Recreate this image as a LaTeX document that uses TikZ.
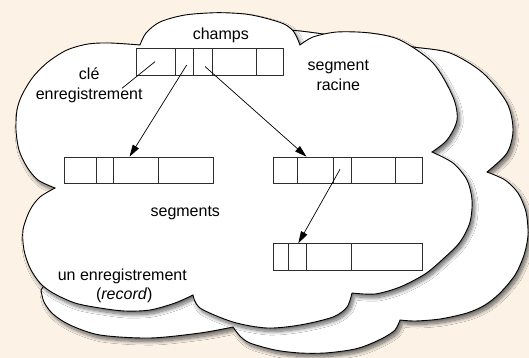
\documentclass[tikz,border=0pt]{standalone}
\usepackage{fontspec}
\setmainfont{Liberation Sans}
\usetikzlibrary{shadows.blur,arrows.meta,calc}
\definecolor{paper}{RGB}{252,242,230}
\definecolor{ink}{RGB}{45,45,45}

\begin{document}
\begin{tikzpicture}[x=1pt,y=-1pt,
  cloud/.style={fill=white, draw=black, line width=0.9pt,
    blur shadow={shadow xshift=2.5pt, shadow yshift=-3.5pt,
      shadow blur radius=3.5pt, shadow blur steps=14, shadow opacity=60}},
  cell/.style={draw=ink, line width=0.9pt, inner sep=0pt,
    minimum height=26.7pt, anchor=north west},
  link/.style={draw=black, line width=0.7pt,
    -{Triangle[length=12pt,width=7pt]}},
  lbl/.style={font=\fontsize{16}{19}\selectfont, inner sep=0pt, anchor=base}]

% background
\fill[paper] (0,0) rectangle (529,358);
\useasboundingbox (0,0) rectangle (529,358);

% rear cloud
\path[cloud]
  plot[smooth] coordinates {(230,45) (255,35) (280,30) (300,31) (330,35) (370,41)
    (413,47) (450,53) (483,73) (507,103) (513,130) (507,153) (487,172)}
  -- plot[smooth] coordinates {(487,172) (505,180) (518,193) (526,212) (528,235)
    (524,255) (515,275) (500,293) (485,305) (467,313) (440,319) (415,321) (400,320)}
  -- plot[smooth] coordinates {(400,320) (395,330) (383,338) (365,346) (350,350)
    (325,353) (300,353) (275,350) (250,343) (240,336) (233,327)}
  -- plot[smooth] coordinates {(233,327) (200,333) (150,338) (100,335) (70,325)
    (53,314) (44,302) (41,290)}
  -- (70,250) -- (90,150) -- (150,70) -- cycle;

% front cloud
\path[cloud]
  plot[smooth] coordinates {(140,45) (146,33) (160,22) (185,15) (217,12.7) (245,14)
    (265,18) (284,24) (294,32) (300,45)}
  -- plot[smooth] coordinates {(300,45) (313,37) (337,32) (370,33) (400,40) (433,63)
    (453,97) (457,120) (447,140) (432,152)}
  -- plot[smooth] coordinates {(432,152) (453,163) (467,180) (472,200) (470,222)
    (460,242) (443,259) (425,274) (400,287) (375,294) (352,293)}
  -- plot[smooth] coordinates {(352,293) (347,307) (333,317) (300,325) (267,328)
    (233,322) (200,308) (193,295)}
  -- plot[smooth] coordinates {(193,295) (175,303) (150,310) (125,311) (100,308)
    (75,303) (53,293) (40,283) (30,268) (24,250) (23,230) (30,210) (40,197) (55,188)}
  -- plot[smooth] coordinates {(55,188) (38,180) (27,167) (19,150) (16,130) (17,110)
    (22,95) (33,77) (48,62) (67,50) (88,44) (110,43) (140,45)}
  -- cycle;

% root segment
\node[cell, minimum width=39pt]   (t1) at (136,48.3) {};
\node[cell, minimum width=18.3pt] (t2) at (175,48.3) {};
\node[cell, minimum width=18.4pt] (t3) at (193.3,48.3) {};
\node[cell, minimum width=44.3pt] (t4) at (211.7,48.3) {};
\node[cell, minimum width=27.3pt] (t5) at (256,48.3) {};

% left child segment
\node[cell, minimum width=32pt]   (l1) at (64,156.7) {};
\node[cell, minimum width=17.3pt] (l2) at (96,156.7) {};
\node[cell, minimum width=44.4pt] (l3) at (113.3,156.7) {};
\node[cell, minimum width=54.9pt] (l4) at (157.7,156.7) {};

% right child segment
\node[cell, minimum width=24.5pt] (r1) at (272.5,156.7) {};
\node[cell, minimum width=36.3pt] (r2) at (297,156.7) {};
\node[cell, minimum width=17.4pt] (r3) at (333.3,156.7) {};
\node[cell, minimum width=44.3pt] (r4) at (350.7,156.7) {};
\node[cell, minimum width=26.5pt] (r5) at (395,156.7) {};

% grandchild segment
\node[cell, minimum width=15.9pt] (b1) at (272.5,243.3) {};
\node[cell, minimum width=17.6pt] (b2) at (288.4,243.3) {};
\node[cell, minimum width=44.7pt] (b3) at (306,243.3) {};
\node[cell, minimum width=70.8pt] (b4) at (350.7,243.3) {};

% labels
\node[lbl] (champs) at (220.8,39.5) {champs};
\node[lbl] (cle) at (89.2,80) {clé};
\node[lbl] (enreg) at (89.2,99.5) {enregistrement};
\node[lbl] (segm) at (338.3,70.7) {segment};
\node[lbl] (racine) at (338.3,90.7) {racine};
\node[lbl] (segs) at (185.3,216.5) {segments};
\node[lbl] (unenr) at (122.3,280) {un enregistrement};
\node[lbl] (rec) at (124.3,299.3) {(\textit{record})};

% pointer ends
\coordinate (t1p) at (155,61.7);
\coordinate (keyend) at (122,88.3);
\coordinate (t2p) at (186.7,65);
\coordinate (t3p) at (205,66.5);
\coordinate (r3p) at (340,169.3);
\coordinate (l3in) at ($(l3.north west)+(16.2,0)$);
\coordinate (r2in) at ($(r2.north west)+(9.5,0)$);
\coordinate (b2in) at ($(b2.north west)+(9.9,0)$);

% connectors
\draw[line width=0.7pt] (t1p) -- (keyend);
\draw[link] (t2p) -- (l3in);
\draw[link] (t3p) -- (r2in);
\draw[link] (r3p) -- (b2in);
\end{tikzpicture}
\end{document}
